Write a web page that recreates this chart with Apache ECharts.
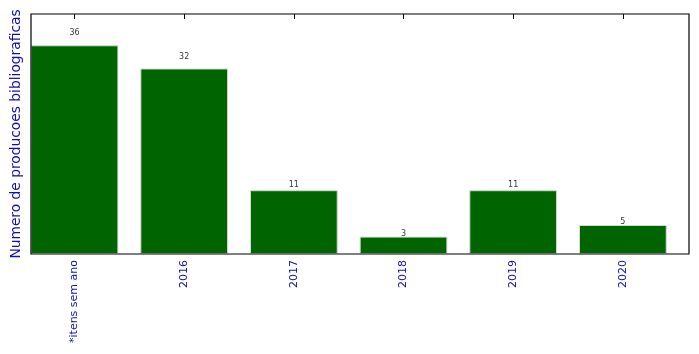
<!DOCTYPE html>
<html>
<head>
<meta charset="utf-8">
<script src="https://cdn.jsdelivr.net/npm/echarts@6/dist/echarts.min.js"></script>
<style>html,body{margin:0;padding:0;background:#fff}#c{width:699px;height:354px}</style>
</head>
<body>
<div id="c"></div>
<script>
const categories = ['*itens sem ano', '2016', '2017', '2018', '2019', '2020'];
const values = [36, 32, 11, 3, 11, 5];
const yTitle = 'Numero de producoes bibliograficas';
const yMax = 41.4;

const chart = echarts.init(document.getElementById('c'), null, {renderer: 'canvas'});
const font = 'DejaVu Sans';
chart.setOption({
  animation: false,
  grid: {left: 19.7, right: 21.3, top: 14, bottom: 100, containLabel: false, outerBoundsMode: 'none'},
  xAxis: [{
    type: 'category', data: categories, position: 'bottom',
    axisLine: {show: false},
    axisTick: {show: true, inside: true, length: 5, alignWithLabel: true, lineStyle: {color: '#000'}},
    axisLabel: {rotate: 90, margin: 6, color: '#1010b0', fontFamily: font, fontSize: 11, interval: 0}
  }, {
    type: 'category', data: categories, position: 'top',
    axisLine: {show: false},
    axisTick: {show: true, inside: true, length: 5, alignWithLabel: true, lineStyle: {color: '#000'}},
    axisLabel: {show: false}
  }],
  yAxis: {
    type: 'value', min: 0, max: yMax,
    axisLine: {show: false}, axisTick: {show: false}, axisLabel: {show: false}, splitLine: {show: false},
    name: yTitle, nameLocation: 'middle', nameGap: -4, nameRotate: 90,
    nameTextStyle: {color: '#1010b0', fontFamily: font, fontSize: 13.8}
  },
  series: [{
    type: 'bar', data: values, barWidth: '80%', xAxisIndex: 0,
    itemStyle: {color: '#006400', borderColor: '#cfdccf', borderWidth: 1},
    label: {show: false}
  }, {
    type: 'scatter', xAxisIndex: 0, symbolSize: 0,
    data: values.map((v, i) => [i, v * 1.05]),
    label: {show: true, position: 'top', distance: -2, color: '#000', fontFamily: font, fontSize: 8,
      formatter: p => String(values[p.dataIndex])}
  }],
  graphic: [{
    type: 'rect', shape: {x: 31, y: 14, width: 658, height: 240},
    style: {fill: 'none', stroke: '#000', lineWidth: 1.2}, z: 100
  }]
});
</script>
</body>
</html>
